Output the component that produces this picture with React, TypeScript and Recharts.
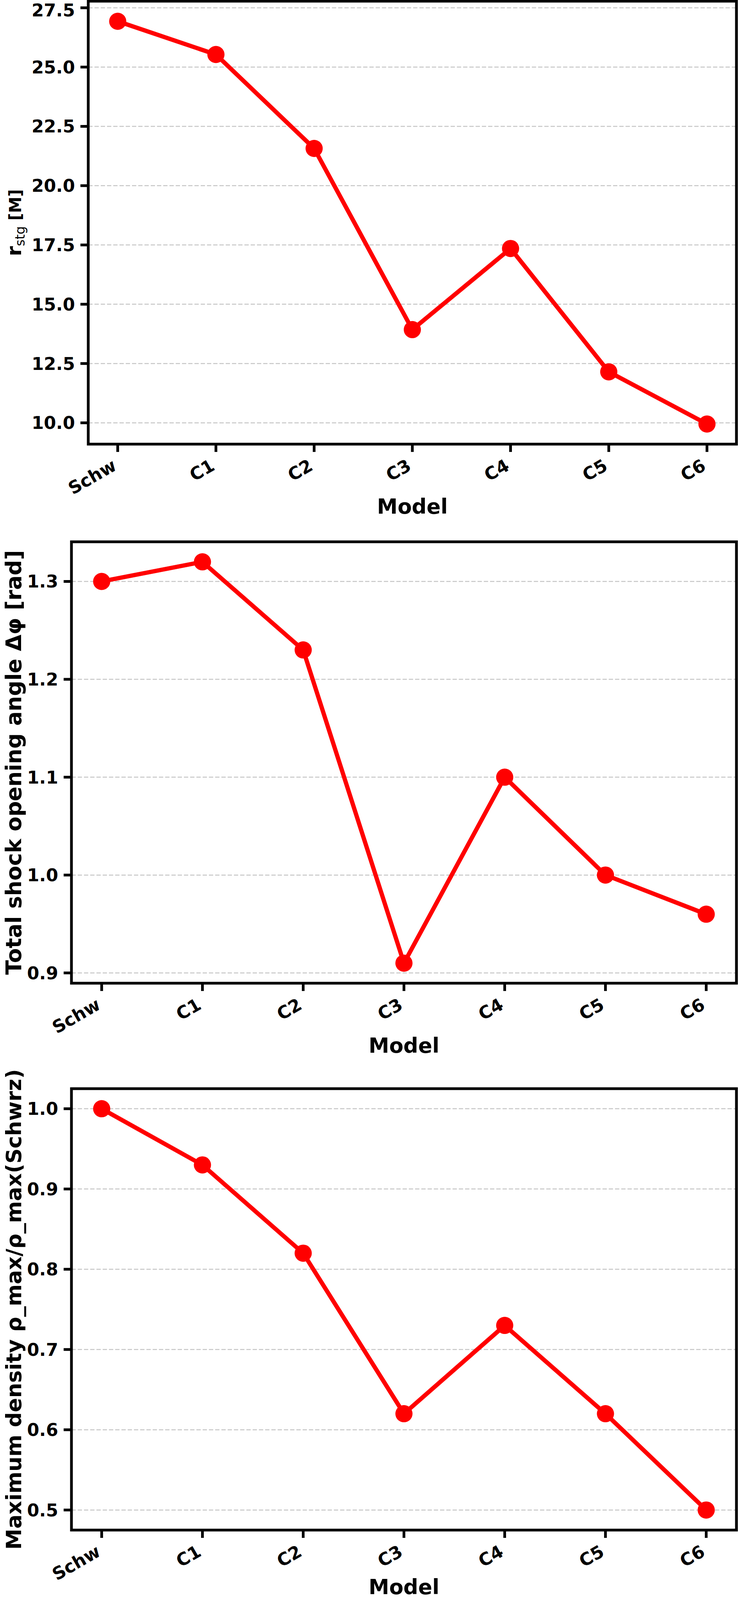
import React from 'react';
import {
    LineChart,
    Line,
    XAxis,
    YAxis,
    CartesianGrid,
    ReferenceArea,
    Label
} from 'recharts';

const FONT = '"DejaVu Sans", sans-serif';

// Models on the x axis
const models = ['Schw', 'C1', 'C2', 'C3', 'C4', 'C5', 'C6'];

// Panel 1: stagnation radius r_stg [M]
const stagnationRadius = [26.93, 25.53, 21.57, 13.93, 17.35, 12.15, 9.95];
const radiusTicks = [10, 12.5, 15, 17.5, 20, 22.5, 25, 27.5];

// Panel 2: total shock opening angle [rad]
const openingAngle = [1.30, 1.32, 1.23, 0.91, 1.10, 1.00, 0.96];
const angleTicks = [0.9, 1.0, 1.1, 1.2, 1.3];

// Panel 3: max density ratio
const densityRatio = [1.00, 0.93, 0.82, 0.62, 0.73, 0.62, 0.50];
const densityTicks = [0.5, 0.6, 0.7, 0.8, 0.9, 1.0];

const xTicks = models.map((_, i) => i);

// the figure is 4326 px tall; squeeze vertically if the viewport is shorter
const FIG_H = 4326;
const viewH = typeof window !== 'undefined' && window.innerHeight ? window.innerHeight : FIG_H;
const sy = Math.min(1, viewH / FIG_H);
const v = (n: number) => Math.round(n * sy);

// matplotlib-like 5% margins
const padDomain = (values: number[]): [number, number] => {
    const lo = Math.min(...values);
    const hi = Math.max(...values);
    const pad = (hi - lo) * 0.05;
    return [lo - pad, hi + pad];
};

const XTick = (props: any) => {
    const { x, y, payload } = props;
    const px = x;
    const py = y + v(46);
    return (
        <text
            x={px}
            y={py}
            transform={`rotate(-30, ${px}, ${py})`}
            textAnchor="end"
            fontSize={45}
            fontWeight="bold"
            fontFamily={FONT}
            fill="#000"
        >
            {models[payload.value]}
        </text>
    );
};

const makeModelLabel = (offset: number) => (props: any) => {
    const { viewBox } = props;
    const cx = viewBox.x + viewBox.width / 2;
    return (
        <text x={cx} y={viewBox.y + offset} textAnchor="middle" fontSize={53} fontWeight="bold" fontFamily={FONT} fill="#000">
            Model
        </text>
    );
};

const makeYLabel = (content: React.ReactNode, fontSize: number) => (props: any) => {
    const { viewBox } = props;
    const cx = 54;
    const cy = viewBox.y + viewBox.height / 2;
    return (
        <text
            x={cx}
            y={cy}
            transform={`rotate(-90, ${cx}, ${cy})`}
            textAnchor="middle"
            fontFamily={FONT}
            fontWeight="bold"
            fontSize={fontSize}
            fill="#000"
        >
            {content}
        </text>
    );
};

interface PanelProps {
    values: number[];
    ticks: number[];
    decimals: number;
    height: number;
    top: number;
    axisWidth: number;
    xAxisHeight: number;
    yLabel: any;
    xLabel: any;
}

const Panel: React.FC<PanelProps> = ({ values, ticks, decimals, height, top, axisWidth, xAxisHeight, yLabel, xLabel }) => {
    const data = values.map((val, i) => ({ idx: i, value: val }));
    const [yMin, yMax] = padDomain(values);
    return (
        <LineChart
            width={1890}
            height={height}
            data={data}
            margin={{ top, right: 4, left: 0, bottom: 0 }}
            style={{ fontFamily: FONT }}
        >
            <CartesianGrid vertical={false} stroke="#c6c6c6" strokeWidth={2.5} strokeDasharray="11 5" />
            <XAxis
                dataKey="idx"
                type="number"
                domain={[-0.3, 6.3]}
                ticks={xTicks}
                allowDataOverflow
                interval={0}
                height={xAxisHeight}
                axisLine={false}
                tickLine={{ stroke: '#000', strokeWidth: 7 }}
                tickSize={20}
                tickMargin={0}
                tick={<XTick />}
            >
                <Label content={xLabel} />
            </XAxis>
            <YAxis
                type="number"
                domain={[yMin, yMax]}
                ticks={ticks}
                allowDataOverflow
                width={axisWidth}
                axisLine={false}
                tickLine={{ stroke: '#000', strokeWidth: 7 }}
                tickSize={20}
                tickMargin={14}
                tickFormatter={(t: number) => t.toFixed(decimals)}
                tick={{ fontSize: 45, fontWeight: 'bold', fill: '#000', fontFamily: FONT }}
            >
                <Label content={yLabel} />
            </YAxis>
            <ReferenceArea
                x1={-0.3}
                x2={6.3}
                y1={yMin}
                y2={yMax}
                fill="none"
                fillOpacity={0}
                stroke="#000"
                strokeWidth={7}
                ifOverflow="visible"
            />
            <Line
                type="linear"
                dataKey="value"
                stroke="#ff0000"
                strokeWidth={11}
                dot={{ r: 22, fill: '#ff0000', stroke: 'none' }}
                activeDot={false}
                isAnimationActive={false}
            />
        </LineChart>
    );
};

const RadiusLabel = makeYLabel(
    <>
        <tspan>r</tspan>
        <tspan fontWeight="normal" fontSize={33} dy={9}>stg</tspan>
        <tspan fontSize={42} dy={-9}> [M]</tspan>
    </>,
    52
);
const AngleLabel = makeYLabel('Total shock opening angle Δφ  [rad]', 55);
const DensityLabel = makeYLabel('Maximum density ρ_max/ρ_max(Schwrz)', 54);

const ModelLabel = makeModelLabel(v(188));
const LastModelLabel = makeModelLabel(v(189) - 15);

export default function App() {
    return (
        <div style={{ position: 'absolute', left: 0, top: 0, width: 1890, height: v(FIG_H), background: '#fff', overflow: 'hidden' }}>
            <Panel values={stagnationRadius} ticks={radiusTicks} decimals={1} height={v(1420)} top={v(3)}
                axisWidth={226} xAxisHeight={v(220)} yLabel={<RadiusLabel />} xLabel={<ModelLabel />} />
            <Panel values={openingAngle} ticks={angleTicks} decimals={1} height={v(1458)} top={v(44)}
                axisWidth={183} xAxisHeight={v(220)} yLabel={<AngleLabel />} xLabel={<ModelLabel />} />
            <Panel values={densityRatio} ticks={densityTicks} decimals={1} height={v(FIG_H) - v(1420) - v(1458)} top={v(65)}
                axisWidth={183} xAxisHeight={v(189)} yLabel={<DensityLabel />} xLabel={<LastModelLabel />} />
        </div>
    );
}
